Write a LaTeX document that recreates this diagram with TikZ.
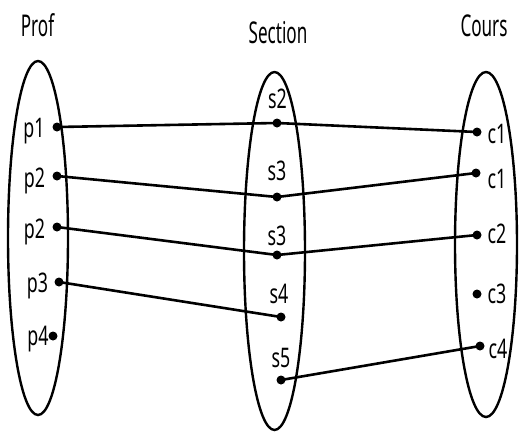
\documentclass[tikz,border=0pt]{standalone}
\usepackage{fontspec}
\newfontfamily\labfont{Noto Sans}[FakeStretch=0.66]
\newfontfamily\titfont{Noto Sans}[FakeStretch=0.57]
\begin{document}
\begin{tikzpicture}[x=1pt,y=-1pt,
  lab/.style={font=\labfont\fontsize{27}{30}\selectfont, inner sep=0pt, anchor=base},
  tit/.style={font=\titfont\fontsize{30}{34}\selectfont, inner sep=0pt, anchor=base},
  dot/.style={circle, fill=black, inner sep=0pt, minimum size=9pt},
  set/.style={draw=black, line width=2.4pt},
  link/.style={draw=black, line width=2.6pt}]
\useasboundingbox (0,0) rectangle (519,432);
% sets
\draw[set] (38,238) ellipse [x radius=30, y radius=177];
\draw[set] (274.5,251) ellipse [x radius=30.5, y radius=179];
\draw[set] (486,244.5) ellipse [x radius=31, y radius=172.5];
% titles
\node[tit] (tprof) at (37.5,36) {Prof};
\node[tit] (tsec) at (278,43) {Section};
\node[tit] (tcours) at (484,36) {Cours};
% Prof
\node[lab] (lp1) at (34,137) {p1};
\node[lab] (lp2a) at (34.5,187) {p2};
\node[lab] (lp2b) at (34.5,238) {p2};
\node[lab] (lp3) at (37.5,292) {p3};
\node[lab] (lp4) at (38,345) {p4};
\node[dot] (p1) at (57,127) {};
\node[dot] (p2a) at (57,176) {};
\node[dot] (p2b) at (57,227) {};
\node[dot] (p3) at (59,282) {};
\node[dot] (p4) at (53,336) {};
% Section
\node[lab] (ls2) at (277.5,108) {s2};
\node[lab] (ls3a) at (277,180) {s3};
\node[lab] (ls3b) at (277,245) {s3};
\node[lab] (ls4) at (279,303) {s4};
\node[lab] (ls5) at (281,367) {s5};
\node[dot] (s2) at (277,123) {};
\node[dot] (s3a) at (277,197) {};
\node[dot] (s3b) at (277,255) {};
\node[dot] (s4) at (281,317) {};
\node[dot] (s5) at (281,380) {};
% Cours
\node[lab] (lc1a) at (497,143) {c1};
\node[lab] (lc1b) at (497,188) {c1};
\node[lab] (lc2) at (497,243) {c2};
\node[lab] (lc3) at (497,303) {c3};
\node[lab] (lc4) at (498,358) {c4};
\node[dot] (c1a) at (477,132) {};
\node[dot] (c1b) at (476,173) {};
\node[dot] (c2) at (477,235) {};
\node[dot] (c3) at (477,294) {};
\node[dot] (c4) at (480,346) {};
% links
\draw[link] (p1.center) -- (s2.center) -- (c1a.center);
\draw[link] (p2a.center) -- (s3a.center) -- (c1b.center);
\draw[link] (p2b.center) -- (s3b.center) -- (c2.center);
\draw[link] (p3.center) -- (s4.center);
\draw[link] (s5.center) -- (c4.center);
\end{tikzpicture}
\end{document}
